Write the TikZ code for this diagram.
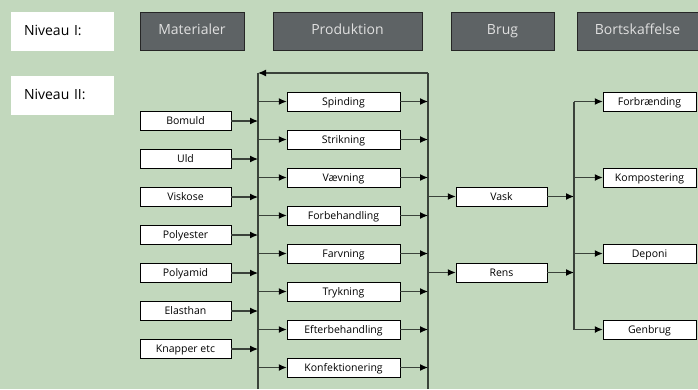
\documentclass[tikz,border=0pt]{standalone}
\usepackage{fontspec}
\setmainfont{Open Sans}
\usetikzlibrary{arrows.meta}
\definecolor{bggreen}{RGB}{194,216,189}
\definecolor{hdrgray}{RGB}{94,99,101}
\definecolor{linegray}{RGB}{58,66,58}

\begin{document}
\begin{tikzpicture}[x=1pt,y=-1pt,
  lvlbox/.style={fill=white,minimum height=39pt,text width=77pt,inner xsep=13pt,inner ysep=0pt,align=left,text height=10pt,text depth=3pt,font=\fontsize{14}{16}\selectfont},
  hdrbox/.style={draw=black!85,fill=hdrgray,text=white!88!black,minimum height=38pt,inner sep=0pt,text height=10pt,text depth=3pt,font=\fontsize{14}{16}\selectfont},
  smallbox/.style={draw=black,fill=white,minimum height=19pt,inner sep=0pt,text height=8.5pt,text depth=1.2pt,font=\fontsize{10.5}{12}\selectfont},
  conn/.style={draw=linegray,line width=1.2pt},
  arr/.style={conn,-{Latex[length=8pt,width=7pt,color=black]}}
]
\fill[bggreen] (0,0) rectangle (698,389);
\useasboundingbox (0,0) rectangle (698,389);

\node[lvlbox](niv1) at (62.5,31.5){Niveau I:};
\node[lvlbox](niv2) at (62.5,95.5){Niveau II:};
\node[hdrbox,minimum width=104pt](mat) at (192,31){Materialer};
\node[hdrbox,minimum width=149pt](prod) at (347.5,31){Produktion};
\node[hdrbox,minimum width=103pt](brug) at (502.5,31){Brug};
\node[hdrbox,minimum width=121pt](bort) at (637.5,31){Bortskaffelse};

\coordinate (lt) at (258,73);
\coordinate (lb) at (258,389);
\coordinate (rt) at (428,73);
\coordinate (rb) at (428,389);
\coordinate (dl) at (574,0);

\draw[conn] (lt) -- (lb);
\draw[conn] (rt) -- (rb);
\draw[arr] (rt) -- (lt);

\foreach \n/\t [count=\i from 0] in {bomuld/Bomuld,uld/Uld,viskose/Viskose,polyester/Polyester,polyamid/Polyamid,elasthan/Elasthan,knapper/Knapper etc}{
  \node[smallbox,minimum width=91pt](\n) at (185.5,{121+38*\i}){\t};
  \draw[arr] (\n.east) -- (\n -| lt);
}

\foreach \n/\t [count=\i from 0] in {spinding/Spinding,strikning/Strikning,vaevning/Vævning,forbeh/Forbehandling,farvning/Farvning,trykning/Trykning,efterbeh/Efterbehandling,konf/Konfektionering}{
  \node[smallbox,minimum width=113pt](\n) at (343.5,{101.5+38*\i}){\t};
  \draw[arr] (\n -| lt) -- (\n.west);
  \draw[arr] (\n.east) -- (\n -| rt);
}

\node[smallbox,minimum width=91pt](vask) at (501.5,196.5){Vask};
\node[smallbox,minimum width=91pt](rens) at (501.5,272.5){Rens};
\draw[arr] (vask -| rt) -- (vask.west);
\draw[arr] (rens -| rt) -- (rens.west);
\draw[arr] (vask.east) -- (vask -| dl);
\draw[arr] (rens.east) -- (rens -| dl);

\foreach \n/\t [count=\i from 0] in {forbr/Forbrænding,komp/Kompostering,deponi/Deponi,genbrug/Genbrug}{
  \node[smallbox,minimum width=93pt](\n) at (649.5,{101.5+76*\i}){\t};
  \draw[arr] (\n -| dl) -- (\n.west);
}
\draw[conn] (forbr -| dl) -- (genbrug -| dl);
\end{tikzpicture}
\end{document}
